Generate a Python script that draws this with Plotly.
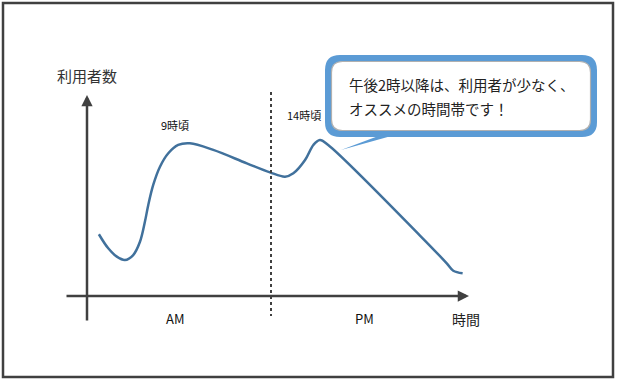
import plotly.graph_objects as go

# ---- data (schematic: hour of day vs. relative number of users) ----
hours = [5.38, 5.74, 6.07, 6.38, 6.70, 6.96, 7.15, 7.28, 7.47, 7.73, 8.05, 8.43, 8.88,
         9.78, 11.07, 11.96, 12.54, 12.86, 13.31, 13.63, 13.88, 14.20, 17.73, 18.76, 19.01, 19.37]
users = [38.6, 29.8, 24.6, 22.5, 25.6, 33.9, 46.4, 56.9, 69.4, 80.8, 89.2, 94.4, 95.4,
         91.3, 82.9, 77.3, 74.6, 76.7, 85.0, 94.4, 97.5, 94.4, 37.8, 20.4, 15.8, 14.2]
noon = 12
labels = {"9時頃": (8.3, 107), "14時頃": (13.25, 113)}
x_axis_title = "時間"
y_axis_title = "利用者数"
period_labels = {"AM": 8.3, "PM": 15.6}
callout_lines = ["午後2時以降は、利用者が少なく、", "オススメの時間帯です！"]

W, H = 620, 384
PX_PER_H = 26.0
X0 = noon - 271 / PX_PER_H
X1 = X0 + W / PX_PER_H
Y_SCALE = 1.6
Y0 = (296 - H) / Y_SCALE
Y1 = 296 / Y_SCALE

FONT = "Noto Sans CJK JP"
AX_COL = "#404040"
LINE_COL = "#41719C"
BLUE = "#5B9BD5"


def px(x):
    return x / W


def py(y):
    return 1 - y / H


def rrect(x0, y0, x1, y1, r):
    pts = [
        f"M {px(x0 + r)} {py(y0)}",
        f"L {px(x1 - r)} {py(y0)}",
        f"Q {px(x1)} {py(y0)} {px(x1)} {py(y0 + r)}",
        f"L {px(x1)} {py(y1 - r)}",
        f"Q {px(x1)} {py(y1)} {px(x1 - r)} {py(y1)}",
        f"L {px(x0 + r)} {py(y1)}",
        f"Q {px(x0)} {py(y1)} {px(x0)} {py(y1 - r)}",
        f"L {px(x0)} {py(y0 + r)}",
        f"Q {px(x0)} {py(y0)} {px(x0 + r)} {py(y0)}",
        "Z",
    ]
    return " ".join(pts)


fig = go.Figure()
fig.add_trace(go.Scatter(
    x=hours, y=users, mode="lines",
    line=dict(color=LINE_COL, width=2.5, shape="spline", smoothing=1.0),
    cliponaxis=False, hoverinfo="skip", showlegend=False,
))

shapes = []
shapes.append(dict(type="rect", xref="paper", yref="paper",
                   x0=px(3), y0=py(3), x1=px(613), y1=py(377),
                   line=dict(color=AX_COL, width=2.5), layer="below"))
shapes.append(dict(type="line", xref="x", yref="y", x0=noon, x1=noon,
                   y0=127.5, y1=-12.5, line=dict(color=AX_COL, width=2, dash="dot")))
shapes.append(dict(type="path", xref="paper", yref="paper",
                   path=f"M {px(341)} {py(150)} L {px(381)} {py(135)} L {px(402)} {py(133)} Z",
                   fillcolor=BLUE, line=dict(width=0)))
shapes.append(dict(type="path", xref="paper", yref="paper",
                   path=rrect(325, 55, 597, 137, 15), fillcolor=BLUE, line=dict(width=0)))
shapes.append(dict(type="path", xref="paper", yref="paper",
                   path=rrect(331.5, 61.5, 590.5, 130.5, 11), fillcolor="white",
                   line=dict(color="#b0b0b0", width=1.2)))

annotations = []
x_start = noon + (65 - 271) / PX_PER_H
x_end = noon + (469 - 271) / PX_PER_H
y_axis_x = noon + (87 - 271) / PX_PER_H
annotations.append(dict(x=x_end, y=0, ax=x_start, ay=0, xref="x", yref="y",
                        axref="x", ayref="y", text="", showarrow=True,
                        arrowhead=2, arrowsize=0.9, arrowwidth=2.5, arrowcolor=AX_COL))
annotations.append(dict(x=y_axis_x, y=(296 - 95) / Y_SCALE, ax=y_axis_x, ay=(296 - 322) / Y_SCALE,
                        xref="x", yref="y", axref="x", ayref="y", text="", showarrow=True,
                        arrowhead=2, arrowsize=0.9, arrowwidth=2.5, arrowcolor=AX_COL))
annotations.append(dict(x=y_axis_x, y=(296 - 75) / Y_SCALE, xref="x", yref="y",
                        text=y_axis_title, showarrow=False,
                        font=dict(family=FONT, size=15, color="#333333")))
annotations.append(dict(x=noon + (466 - 271) / PX_PER_H, y=(296 - 319) / Y_SCALE,
                        xref="x", yref="y", text=x_axis_title, showarrow=False,
                        font=dict(family=FONT, size=14, color="#222222")))
for t, xv in period_labels.items():
    annotations.append(dict(x=xv, y=(296 - 318) / Y_SCALE, xref="x", yref="y",
                            text=t, showarrow=False,
                            font=dict(family=FONT, size=13, color="#111111")))
for t, (xv, yv) in labels.items():
    annotations.append(dict(x=xv, y=yv, xref="x", yref="y", text=t, showarrow=False,
                            font=dict(family=FONT, size=11, color="#111111")))
for i, line in enumerate(callout_lines):
    annotations.append(dict(x=px(347), y=py(85 + 23 * i), xref="paper", yref="paper",
                            xanchor="left", yanchor="middle", text=line, showarrow=False,
                            font=dict(family=FONT, size=14.5, color="#222222")))

fig.update_layout(
    width=W, height=H, margin=dict(l=0, r=0, t=0, b=0, pad=0),
    paper_bgcolor="white", plot_bgcolor="white",
    xaxis=dict(range=[X0, X1], visible=False, fixedrange=True),
    yaxis=dict(range=[Y0, Y1], visible=False, fixedrange=True),
    shapes=shapes, annotations=annotations, showlegend=False,
)

fig.write_html(
    "out.html",
    config={"displayModeBar": False},
    post_script="document.body.style.margin='0';document.body.style.overflow='hidden';",
)
